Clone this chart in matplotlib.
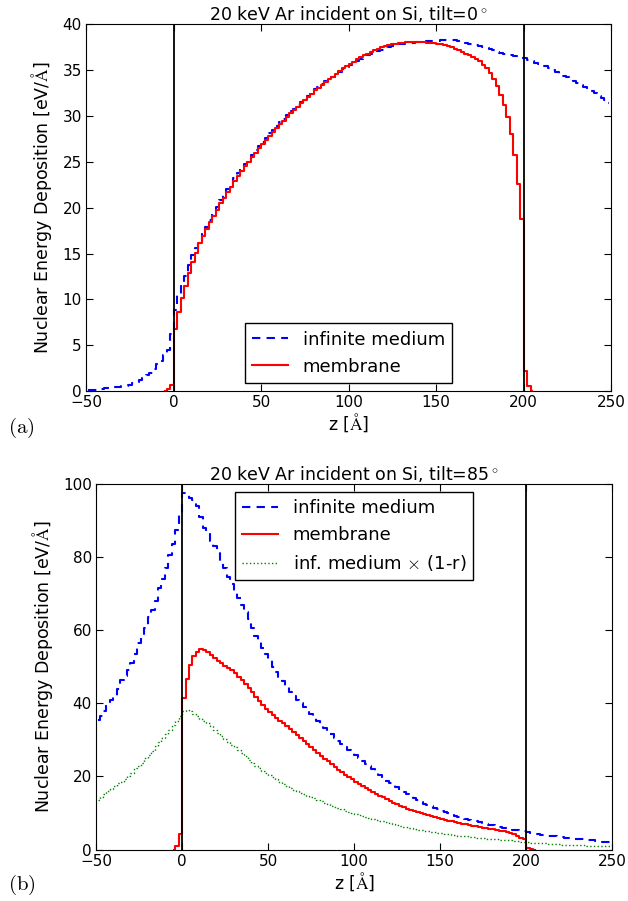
import numpy as np
import matplotlib
matplotlib.use("Agg")
import matplotlib.pyplot as plt

plt.rcParams["font.family"] = ["DejaVu Sans"]
plt.rcParams["mathtext.fontset"] = "cm"
plt.rcParams["font.size"] = 11
plt.rcParams["xtick.direction"] = "in"
plt.rcParams["ytick.direction"] = "in"
plt.rcParams["xtick.top"] = True
plt.rcParams["ytick.right"] = True
plt.rcParams["xtick.major.size"] = 5
plt.rcParams["ytick.major.size"] = 5
plt.rcParams["xtick.major.pad"] = 3
plt.rcParams["ytick.major.pad"] = 3

# -----------------------------
# Data (2 A bins)
# -----------------------------
# infinite medium: bins -50..250, membrane: bins -6..206
z_inf = np.arange(-49, 250, 2)
z_mem = np.arange(-5, 206, 2)

# tilt = 0
top_inf = [
    0.1, 0.1, 0.15, 0.2, 0.25, 0.3, 0.3, 0.35, 0.4, 0.45,
    0.5, 0.6, 0.7, 0.85, 1.0, 1.2, 1.4, 1.7, 2.0, 2.4,
    2.9, 3.3, 3.9, 4.5, 6.2, 8.8, 10.5, 11.8, 12.6, 13.8,
    14.8, 15.6, 16.4, 17.2, 17.9, 18.7, 19.4, 20.1, 20.8, 21.4,
    22.0, 22.6, 23.2, 23.8, 24.3, 24.8, 25.3, 25.8, 26.3, 26.7,
    27.2, 27.6, 28.1, 28.5, 28.9, 29.3, 29.7, 30.1, 30.5, 30.8,
    31.2, 31.5, 31.9, 32.2, 32.5, 32.9, 33.2, 33.5, 33.8, 34.0,
    34.3, 34.6, 34.8, 35.1, 35.3, 35.6, 35.8, 36.0, 36.2, 36.4,
    36.6, 36.8, 36.9, 37.1, 37.2, 37.3, 37.5, 37.6, 37.7, 37.8,
    37.9, 37.95, 38.0, 38.0, 38.05, 38.1, 38.1, 38.15, 38.2, 38.2,
    38.2, 38.25, 38.25, 38.3, 38.3, 38.3, 38.2, 38.1, 38.0, 37.9,
    37.8, 37.7, 37.6, 37.5, 37.4, 37.3, 37.2, 37.0, 36.9, 36.8,
    36.7, 36.6, 36.5, 36.4, 36.3, 36.3, 36.1, 36.0, 35.8, 35.7,
    35.5, 35.4, 35.2, 35.0, 34.8, 34.6, 34.4, 34.2, 34.0, 33.8,
    33.6, 33.4, 33.2, 33.0, 32.7, 32.5, 32.2, 32.0, 31.7, 31.4,
]
top_mem = [
    0, 0.25, 0.7, 6.8, 8.6, 10.2, 11.5, 12.9, 14.1, 15.1,
    16.1, 16.9, 17.7, 18.4, 19.1, 19.8, 20.5, 21.1, 21.7, 22.3,
    22.9, 23.5, 24.0, 24.5, 25.0, 25.5, 26.0, 26.5, 26.9, 27.4,
    27.8, 28.3, 28.7, 29.1, 29.5, 29.9, 30.3, 30.7, 31.0, 31.4,
    31.7, 32.1, 32.4, 32.8, 33.1, 33.4, 33.7, 34.0, 34.3, 34.6,
    34.9, 35.2, 35.4, 35.7, 35.9, 36.2, 36.4, 36.6, 36.8, 37.0,
    37.2, 37.3, 37.5, 37.6, 37.7, 37.8, 37.9, 37.95, 38.0, 38.05,
    38.1, 38.1, 38.1, 38.1, 38.05, 38.0, 38.0, 37.95, 37.9, 37.8,
    37.7, 37.6, 37.5, 37.3, 37.2, 37.0, 36.8, 36.6, 36.4, 36.2,
    36.0, 35.6, 35.2, 34.7, 34.0, 33.3, 32.3, 31.2, 29.9, 28.0,
    25.7, 22.6, 18.8, 2.2, 0.6, 0,
]

# tilt = 85
bot_inf = [
    35.5, 36.5, 38.0, 40.0, 41.0, 42.0, 44.0, 46.5, 47.5, 49.0,
    51.0, 53.5, 56.5, 58.5, 60.5, 63.5, 65.5, 68.0, 71.5, 74.0,
    77.0, 80.5, 83.5, 87.5, 92.0, 97.4, 97.0, 96.0, 95.5, 94.0,
    91.0, 88.0, 86.5, 84.5, 83.0, 81.5, 79.0, 77.0, 74.5, 72.5,
    70.5, 68.7, 67.0, 65.0, 63.0, 60.5, 58.5, 57.0, 55.0, 53.5,
    52.0, 50.0, 48.5, 47.0, 46.0, 44.5, 43.0, 42.0, 41.0, 40.0,
    39.0, 38.0, 37.0, 36.2, 35.2, 34.0, 33.2, 32.4, 31.6, 30.6,
    29.8, 28.9, 28.1, 27.3, 26.5, 25.8, 25.0, 24.3, 23.5, 22.8,
    22.0, 21.3, 20.3, 19.6, 18.9, 18.2, 17.6, 17.0, 16.4, 15.8,
    15.2, 14.6, 14.1, 13.6, 13.1, 12.6, 12.2, 11.8, 11.4, 11.0,
    10.7, 10.3, 10.0, 9.7, 9.3, 9.0, 8.7, 8.4, 8.2, 7.9,
    7.7, 7.5, 7.3, 7.0, 6.8, 6.6, 6.4, 6.2, 6.0, 5.9,
    5.7, 5.5, 5.4, 5.2, 5.0, 4.8, 4.6, 4.4, 4.2, 4.0,
    3.9, 3.8, 3.7, 3.6, 3.5, 3.4, 3.3, 3.2, 3.1, 3.0,
    2.9, 2.8, 2.7, 2.6, 2.5, 2.4, 2.3, 2.2, 2.15, 2.1,
]
bot_mem = [
    0, 1.1, 4.4, 41.4, 46.6, 50.5, 52.8, 54.1, 54.8, 54.6,
    54.1, 53.2, 52.3, 51.6, 51.0, 50.3, 49.7, 49.1, 48.3, 47.3,
    46.3, 45.3, 44.2, 43.0, 41.8, 40.7, 39.6, 38.5, 37.7, 36.9,
    36.1, 35.3, 34.5, 33.7, 32.9, 32.1, 31.3, 30.5, 29.7, 28.9,
    28.1, 27.3, 26.5, 25.7, 24.9, 24.1, 23.3, 22.6, 21.9, 21.2,
    20.5, 19.8, 19.2, 18.6, 18.0, 17.4, 16.8, 16.3, 15.8, 15.3,
    14.8, 14.3, 13.8, 13.3, 12.8, 12.4, 12.0, 11.6, 11.2, 10.9,
    10.6, 10.3, 10.0, 9.7, 9.4, 9.1, 8.8, 8.6, 8.3, 8.1,
    7.9, 7.7, 7.5, 7.3, 7.1, 6.9, 6.7, 6.5, 6.4, 6.2,
    6.0, 5.9, 5.7, 5.6, 5.4, 5.2, 5.0, 4.8, 4.5, 4.2,
    3.8, 3.3, 2.8, 0.4, 0.1, 0,
]
bot_scaled = [
    13.7, 14.5, 15.3, 15.9, 16.5, 17.5, 18.2, 18.6, 19.2, 20.0,
    21.0, 22.2, 23.0, 23.8, 25.0, 26.0, 27.0, 28.3, 29.4, 30.5,
    31.6, 32.8, 34.0, 35.3, 36.5, 37.8, 38.2, 38.0, 37.2, 36.4,
    35.8, 35.2, 34.5, 33.7, 32.8, 32.0, 31.1, 30.2, 29.4, 28.7,
    28.1, 27.3, 26.4, 25.5, 24.6, 23.8, 23.0, 22.3, 21.6, 21.0,
    20.4, 19.8, 19.2, 18.6, 18.0, 17.3, 16.8, 16.4, 15.9, 15.5,
    15.1, 14.8, 14.4, 14.0, 13.6, 13.2, 12.8, 12.4, 12.0, 11.6,
    11.3, 11.0, 10.6, 10.3, 10.0, 9.7, 9.4, 9.2, 8.9, 8.6,
    8.4, 8.1, 7.9, 7.7, 7.5, 7.3, 7.0, 6.8, 6.5, 6.3,
    6.1, 5.9, 5.6, 5.5, 5.3, 5.2, 5.0, 4.9, 4.7, 4.6,
    4.5, 4.3, 4.2, 4.1, 3.9, 3.8, 3.7, 3.6, 3.5, 3.4,
    3.3, 3.2, 3.1, 3.0, 2.9, 2.8, 2.8, 2.7, 2.6, 2.5,
    2.5, 2.4, 2.3, 2.2, 2.1, 2.0, 1.95, 1.9, 1.8, 1.75,
    1.7, 1.6, 1.55, 1.5, 1.45, 1.4, 1.35, 1.3, 1.3, 1.25,
    1.2, 1.15, 1.1, 1.1, 1.05, 1.0, 1.0, 0.95, 0.9, 0.9,
]

assert len(top_inf) == len(z_inf) and len(bot_inf) == len(z_inf)
assert len(bot_scaled) == len(z_inf)
assert len(top_mem) == len(z_mem) and len(bot_mem) == len(z_mem)

# -----------------------------
# Plot
# -----------------------------
fig = plt.figure(figsize=(6.28, 9.01), dpi=100)
ax1 = fig.add_axes([0.137, 0.566, 0.836, 0.407])
ax2 = fig.add_axes([0.153, 0.057, 0.822, 0.406])

ylabel = r"Nuclear Energy Deposition [eV/$\mathrm{\AA}$]"
xlabel = r"z [$\mathrm{\AA}$]"
title_fs = 12.5
label_fs = 12.5
legend_fs = 13

# panel (a)
ax1.plot(z_inf, top_inf, "b", ls="--", dashes=(4, 3), lw=1.5,
         drawstyle="steps-mid", label="infinite medium")
ax1.plot(z_mem, top_mem, "r", lw=1.5, drawstyle="steps-mid", label="membrane")
ax1.axvline(0, color="k", lw=1.3)
ax1.axvline(200, color="k", lw=1.3)
ax1.set_xlim(-50, 250)
ax1.set_ylim(0, 40)
ax1.set_xticks([-50, 0, 50, 100, 150, 200, 250])
ax1.set_yticks(range(0, 41, 5))
ax1.set_title(r"20 keV Ar incident on Si, tilt=0$^\circ$", fontsize=title_fs, pad=3)
ax1.set_xlabel(xlabel, fontsize=label_fs, labelpad=1)
ax1.set_ylabel(ylabel, fontsize=label_fs, labelpad=6)
ax1.legend(loc="lower center", fancybox=False, framealpha=1, edgecolor="k",
           fontsize=legend_fs, borderaxespad=0.45)

# panel (b)
ax2.plot(z_inf, bot_inf, "b", ls="--", dashes=(4, 3), lw=1.5,
         drawstyle="steps-mid", label="infinite medium")
ax2.plot(z_mem, bot_mem, "r", lw=1.5, drawstyle="steps-mid", label="membrane")
ax2.plot(z_inf, bot_scaled, color="g", ls=":", lw=1.0,
         drawstyle="steps-mid", label=r"inf. medium $\times$ (1-r)")
ax2.axvline(0, color="k", lw=1.3)
ax2.axvline(200, color="k", lw=1.3)
ax2.set_xlim(-50, 250)
ax2.set_ylim(0, 100)
ax2.set_xticks([-50, 0, 50, 100, 150, 200, 250])
ax2.set_yticks(range(0, 101, 20))
ax2.set_title(r"20 keV Ar incident on Si, tilt=85$^\circ$", fontsize=title_fs, pad=3)
ax2.set_xlabel(xlabel, fontsize=label_fs, labelpad=1)
ax2.set_ylabel(ylabel, fontsize=label_fs, labelpad=6)
ax2.legend(loc="upper center", fancybox=False, framealpha=1, edgecolor="k",
           fontsize=legend_fs, borderaxespad=0.45)

fig.text(0.012, 0.525, r"$\mathrm{(a)}$", fontsize=15, va="center")
fig.text(0.012, 0.018, r"$\mathrm{(b)}$", fontsize=15, va="center")

fig.savefig("out.png", dpi=100)
